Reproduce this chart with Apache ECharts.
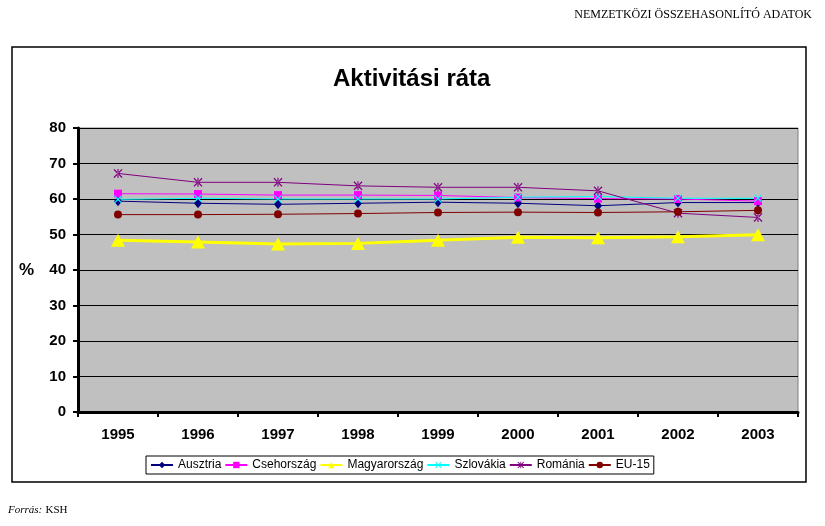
<!DOCTYPE html>
<html>
<head>
<meta charset="utf-8">
<script src="https://cdn.jsdelivr.net/npm/echarts@6/dist/echarts.min.js"></script>
<style>html,body{margin:0;padding:0;background:#fff;}#c{width:825px;height:526px;}</style>
</head>
<body>
<div id="c"></div>
<script>
var years = ['1995','1996','1997','1998','1999','2000','2001','2002','2003'];
var ausztria = [59.4, 58.8, 58.5, 58.8, 59.1, 58.8, 58.1, 59.0, 59.0];
var csehorszag = [61.5, 61.4, 61.1, 61.1, 61.0, 60.4, 60.1, 60.0, 59.4];
var magyarorszag = [48.4, 47.9, 47.3, 47.5, 48.4, 49.2, 49.1, 49.4, 49.9];
var szlovakia = [59.9, 60.2, 60.0, 60.0, 60.0, 60.5, 60.7, 60.2, 60.2];
var romania = [67.2, 64.7, 64.7, 63.7, 63.3, 63.3, 62.3, 56.0, 54.8];
var eu15 = [55.6, 55.6, 55.7, 55.9, 56.2, 56.3, 56.2, 56.4, 56.8];
var yTicks = [0, 10, 20, 30, 40, 50, 60, 70, 80];

var xPath = 'path://M0,1L1,0L5,4L9,0L10,1L6,5L10,9L9,10L5,6L1,10L0,9L4,5Z';
var starPath = 'path://M0,1L1,0L5,4L9,0L10,1L6,5L10,9L9,10L5,6L1,10L0,9L4,5Z M4.4,0L4.4,10L5.6,10L5.6,0Z';

function mk(name, data, color, symbol, size, lw) {
  return {
    name: name, type: 'line', data: data,
    symbol: symbol, symbolSize: size,
    lineStyle: { color: color, width: lw },
    itemStyle: { color: color },
    emphasis: { disabled: true }
  };
}

var chart = echarts.init(document.getElementById('c'));
chart.setOption({
  animation: false,
  backgroundColor: '#ffffff',
  title: {
    text: 'Aktivitási ráta', left: 328, top: 62,
    textStyle: { fontFamily: 'Arial, Liberation Sans', fontWeight: 'bold', fontSize: 24, color: '#000' }
  },
  grid: {
    left: 78, right: 27, top: 128, bottom: 114,
    show: true, backgroundColor: '#c0c0c0', borderColor: '#808080', borderWidth: 1
  },
  legend: {
    left: 146, top: 456, width: 640,
    padding: [3, 4, 3, 4],
    borderColor: '#000', borderWidth: 1,
    itemWidth: 22, itemHeight: 8, itemGap: 3,
    textStyle: { fontFamily: 'Arial, Liberation Sans', fontSize: 12, color: '#000' },
    data: ['Ausztria','Csehország','Magyarország','Szlovákia','Románia','EU-15']
  },
  xAxis: {
    type: 'category', data: years, boundaryGap: true,
    axisLine: { lineStyle: { color: '#000', width: 3 } },
    axisTick: { show: true, length: 5, lineStyle: { color: '#000', width: 2 } },
    axisLabel: { margin: 15, color: '#000', fontFamily: 'Arial, Liberation Sans', fontWeight: 'bold', fontSize: 15 }
  },
  yAxis: {
    type: 'value', min: yTicks[0], max: yTicks[yTicks.length - 1], interval: 10,
    name: '%', nameLocation: 'middle', nameRotate: 0, nameGap: 44,
    nameTextStyle: { fontFamily: 'Arial, Liberation Sans', fontWeight: 'bold', fontSize: 17, color: '#000' },
    axisLine: { show: true, lineStyle: { color: '#000', width: 3 } },
    axisTick: { show: true, length: 5, lineStyle: { color: '#000', width: 2 } },
    axisLabel: { margin: 12, color: '#000', fontFamily: 'Arial, Liberation Sans', fontWeight: 'bold', fontSize: 15 },
    splitLine: { show: true, lineStyle: { color: '#000', width: 1 } }
  },
  series: [
    mk('Ausztria', ausztria, '#000080', 'diamond', [8, 10], 1),
    mk('Csehország', csehorszag, '#ff00ff', 'rect', 8, 1),
    mk('Magyarország', magyarorszag, '#ffff00', 'triangle', [14, 13], 3),
    mk('Szlovákia', szlovakia, '#00ffff', xPath, 8, 1),
    mk('Románia', romania, '#800080', starPath, 9, 1),
    mk('EU-15', eu15, '#800000', 'circle', 8, 1)
  ],
  graphic: [
    { type: 'rect', shape: { x: 12, y: 47, width: 794, height: 435 }, style: { fill: 'none', stroke: '#000', lineWidth: 1.5 }, z: -1 },
    { type: 'text', right: 13, top: 9, style: { text: 'NEMZETKÖZI ÖSSZEHASONLÍTÓ ADATOK', fontFamily: 'Liberation Serif, Times New Roman', fontSize: 12, fill: '#000' } },
    { type: 'text', left: 8, top: 504, style: {
        text: '{i|Forrás:} {n|KSH}',
        rich: {
          i: { fontFamily: 'Liberation Serif, Times New Roman', fontStyle: 'italic', fontSize: 11, fill: '#000' },
          n: { fontFamily: 'Liberation Serif, Times New Roman', fontSize: 11, fill: '#000' }
        }
      } }
  ]
});
</script>
</body>
</html>
